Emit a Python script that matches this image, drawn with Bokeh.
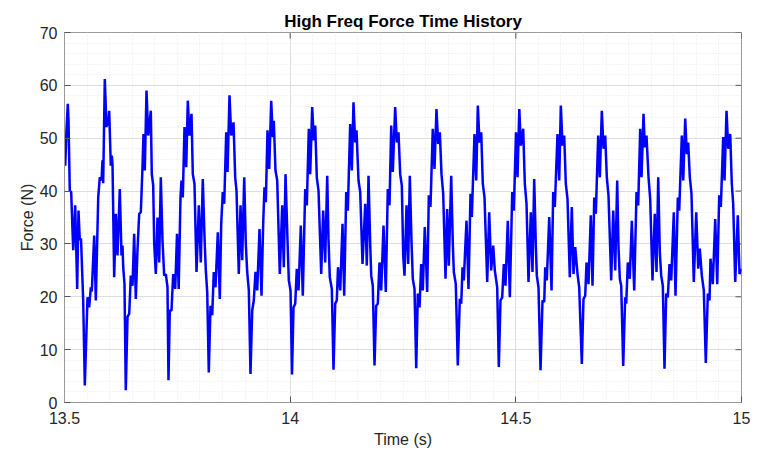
from bokeh.plotting import figure
from bokeh.models import FixedTicker, Range1d
from bokeh.embed import file_html
from bokeh.resources import INLINE
import numpy as np

# ---------------- data ----------------
time_s = [
    13.5000, 13.5016, 13.5044, 13.5073, 13.5089, 13.5117, 13.5148, 13.5193, 13.5237, 13.5281, 13.5310, 13.5339, 13.5366, 13.5414, 13.5450,
    13.5510, 13.5547, 13.5583, 13.5605, 13.5658, 13.5694, 13.5747, 13.5782, 13.5820, 13.5842, 13.5857, 13.5893, 13.5931, 13.5953, 13.5968, 13.5990, 13.6026, 13.6048, 13.6064, 13.6101, 13.6137, 13.6174, 13.6225, 13.6263, 13.6285, 13.6301, 13.6329, 13.6358,
    13.6396, 13.6434, 13.6469, 13.6507, 13.6544, 13.6580, 13.6617, 13.6655, 13.6691, 13.6728, 13.6750, 13.6779, 13.6817, 13.6855, 13.6877, 13.6912, 13.6934, 13.6965, 13.6988, 13.7023, 13.7061, 13.7098, 13.7134, 13.7171, 13.7209, 13.7245, 13.7282, 13.7304,
    13.7333, 13.7371, 13.7408, 13.7453, 13.7493, 13.7530, 13.7570, 13.7592, 13.7621, 13.7659, 13.7697, 13.7732, 13.7770, 13.7814, 13.7843, 13.7880, 13.7925, 13.7976, 13.8020, 13.8064, 13.8102, 13.8131, 13.8162, 13.8197,
    13.8235, 13.8273, 13.8308, 13.8346, 13.8397, 13.8441, 13.8472, 13.8507, 13.8539, 13.8583, 13.8612, 13.8656, 13.8694, 13.8716, 13.8745, 13.8782, 13.8811, 13.8862, 13.8900, 13.8937, 13.8982, 13.9017, 13.9048, 13.9084, 13.9121,
    13.9159, 13.9194, 13.9232, 13.9270, 13.9321, 13.9365, 13.9403, 13.9431, 13.9460, 13.9498, 13.9536, 13.9580, 13.9615, 13.9637, 13.9675, 13.9713, 13.9770, 13.9824, 13.9859, 13.9897, 13.9941, 13.9970, 14.0008, 14.0041,
    14.0074, 14.0112, 14.0147, 14.0185, 14.0236, 14.0280, 14.0333, 14.0369, 14.0413, 14.0444, 14.0488, 14.0524, 14.0555, 14.0590, 14.0628, 14.0688, 14.0732, 14.0776, 14.0821, 14.0849, 14.0878, 14.0923, 14.0960,
    14.0998, 14.1033, 14.1060, 14.1109, 14.1160, 14.1197, 14.1242, 14.1277, 14.1330, 14.1366, 14.1403, 14.1441, 14.1470, 14.1514, 14.1552, 14.1603, 14.1663, 14.1698, 14.1736, 14.1773, 14.1796, 14.1831, 14.1869,
    14.1906, 14.1942, 14.1979, 14.2017, 14.2068, 14.2119, 14.2163, 14.2201, 14.2239, 14.2274, 14.2327, 14.2363, 14.2400, 14.2438, 14.2474, 14.2505, 14.2533, 14.2578, 14.2615, 14.2651, 14.2689, 14.2717, 14.2755, 14.2793,
    14.2828, 14.2866, 14.2903, 14.2939, 14.2983, 14.3036, 14.3072, 14.3109, 14.3160, 14.3198, 14.3242, 14.3280, 14.3316, 14.3353, 14.3391, 14.3442, 14.3479, 14.3515, 14.3568, 14.3604, 14.3626, 14.3670, 14.3714,
    14.3759, 14.3790, 14.3819, 14.3847, 14.3907, 14.3951, 14.3996, 14.4025, 14.4084, 14.4122, 14.4158, 14.4195, 14.4233, 14.4268, 14.4306, 14.4366, 14.4410, 14.4454, 14.4499, 14.4534, 14.4587, 14.4623,
    14.4660, 14.4698, 14.4734, 14.4771, 14.4822, 14.4867, 14.4920, 14.4955, 14.5004, 14.5037, 14.5077, 14.5110, 14.5163, 14.5199, 14.5237, 14.5281, 14.5332, 14.5369, 14.5407, 14.5443, 14.5465, 14.5502, 14.5547,
    14.5591, 14.5629, 14.5651, 14.5686, 14.5740, 14.5791, 14.5828, 14.5864, 14.5923, 14.5961, 14.5997, 14.6034, 14.6072, 14.6107, 14.6145, 14.6196, 14.6240, 14.6278, 14.6316, 14.6367, 14.6404, 14.6462,
    14.6499, 14.6537, 14.6566, 14.6610, 14.6661, 14.6699, 14.6737, 14.6772, 14.6825, 14.6861, 14.6905, 14.6943, 14.6980, 14.7016, 14.7053, 14.7113, 14.7158, 14.7202, 14.7246, 14.7275, 14.7304, 14.7335, 14.7379,
    14.7423, 14.7446, 14.7481, 14.7525, 14.7570, 14.7623, 14.7674, 14.7711, 14.7756, 14.7785, 14.7829, 14.7858, 14.7895, 14.7940, 14.7977, 14.8028, 14.8079, 14.8117, 14.8155, 14.8190, 14.8221, 14.8257, 14.8294,
    14.8332, 14.8367, 14.8405, 14.8443, 14.8500, 14.8538, 14.8589, 14.8620, 14.8678, 14.8709, 14.8753, 14.8788, 14.8819, 14.8855, 14.8892, 14.8943, 14.8997, 14.9041, 14.9076, 14.9121, 14.9165, 14.9209,
    14.9254, 14.9291, 14.9313, 14.9364, 14.9418, 14.9462, 14.9506, 14.9542, 14.9595, 14.9624, 14.9668, 14.9706, 14.9750, 14.9785, 14.9816, 14.9861, 14.9918, 14.9956, 15.0000,
]

force_N = [
    49.2, 44.8, 51.5, 56.5, 53.3, 40.1, 39.8, 28.8, 37.3, 21.5, 36.3, 30.7, 31.0, 19.3, 3.2,
    19.9, 18.0, 21.8, 21.0, 31.6, 19.3, 38.8, 42.6, 42.0, 45.8, 41.5, 61.2, 52.1, 54.0, 52.4, 55.2, 44.8, 46.7, 45.0, 23.7, 35.7, 27.8, 40.4, 27.8, 29.7, 25.6, 22.4, 2.3,
    16.2, 16.8, 24.0, 22.1, 31.9, 19.6, 28.8, 35.7, 36.0, 44.5, 50.8, 43.9, 59.0, 50.5, 52.1, 55.2, 43.2, 41.1, 30.0, 24.3, 35.0, 26.5, 42.6, 30.7, 24.0, 24.3, 21.8, 4.2,
    17.4, 17.4, 24.3, 21.5, 31.9, 21.5, 38.8, 42.0, 38.8, 52.1, 44.5, 57.1, 50.5, 54.6, 43.2, 41.4, 24.7, 37.3, 26.5, 42.3, 31.3, 25.0, 20.9, 5.7,
    18.3, 16.5, 24.7, 21.8, 32.2, 19.6, 33.8, 39.8, 37.6, 51.1, 43.6, 58.1, 50.5, 51.5, 53.0, 42.6, 40.1, 24.3, 37.3, 26.9, 42.6, 30.0, 24.7, 21.2, 5.4,
    17.4, 19.3, 24.7, 21.2, 32.8, 20.2, 34.1, 40.7, 37.9, 51.5, 44.2, 57.1, 50.2, 53.3, 43.9, 42.0, 24.3, 37.3, 25.6, 43.2, 30.7, 23.1, 21.2, 5.3,
    18.0, 18.7, 25.3, 21.2, 33.5, 20.2, 40.4, 37.3, 51.8, 43.2, 55.9, 49.6, 52.4, 42.6, 40.1, 24.3, 36.3, 26.5, 42.9, 31.0, 23.7, 21.5, 6.2,
    18.7, 19.3, 25.6, 21.2, 33.8, 20.2, 39.8, 36.3, 52.7, 43.9, 56.8, 49.2, 51.5, 42.0, 39.8, 26.2, 37.6, 25.9, 42.9, 30.0, 24.0, 22.1, 7.0,
    18.3, 18.7, 26.5, 21.2, 33.5, 20.9, 40.4, 37.3, 52.4, 43.6, 55.9, 49.2, 51.1, 43.2, 41.0, 27.8, 24.0, 37.3, 26.2, 42.9, 30.3, 23.4, 21.5, 6.5,
    20.6, 18.0, 26.2, 21.2, 33.2, 20.9, 39.2, 37.0, 51.8, 44.2, 55.5, 48.9, 51.1, 43.2, 39.5, 23.4, 36.6, 25.9, 42.9, 30.0, 24.7, 22.4, 7.0,
    19.6, 18.7, 25.6, 23.1, 34.4, 21.5, 39.5, 35.1, 50.8, 42.0, 56.2, 49.2, 51.1, 41.4, 38.8, 22.8, 36.0, 25.0, 29.7, 25.0, 21.8, 6.7,
    19.3, 19.9, 26.2, 22.1, 34.4, 19.9, 39.8, 36.3, 51.1, 42.6, 55.5, 48.6, 51.8, 41.4, 37.6, 22.8, 36.0, 24.7, 42.3, 29.7, 24.0, 21.8, 6.1,
    19.3, 19.0, 25.6, 23.1, 35.1, 21.2, 39.8, 37.0, 50.8, 42.0, 56.2, 48.6, 50.5, 41.4, 38.5, 23.7, 37.0, 24.3, 29.4, 24.3, 21.8, 7.3,
    19.6, 20.2, 26.5, 22.4, 35.4, 22.1, 38.8, 35.7, 50.5, 42.6, 55.2, 48.0, 50.5, 42.6, 39.2, 23.1, 36.3, 25.0, 42.0, 29.4, 23.4, 22.1, 6.9,
    19.9, 18.7, 26.5, 23.4, 34.4, 21.2, 39.8, 37.3, 51.8, 42.6, 54.6, 48.3, 50.5, 42.6, 38.5, 23.1, 35.7, 24.7, 42.6, 28.4, 24.0, 22.1, 6.4,
    20.6, 19.9, 26.2, 23.1, 36.0, 20.2, 38.8, 36.3, 50.5, 42.0, 53.7, 47.0, 49.2, 42.6, 39.5, 22.8, 36.0, 25.3, 29.1, 24.0, 21.2, 7.5,
    20.6, 19.3, 27.2, 22.4, 34.7, 22.4, 39.2, 37.0, 50.2, 42.0, 55.2, 48.0, 50.8, 41.4, 37.6, 22.8, 35.4, 24.3, 25.3,
]

x_ticks = [13.5, 14.0, 14.5, 15.0]
x_tick_labels = ["13.5", "14", "14.5", "15"]
y_ticks = [0, 10, 20, 30, 40, 50, 60, 70]
x_minor = [round(v, 2) for v in np.arange(13.5, 15.0001, 0.05)]
y_minor = list(range(0, 71, 2))

n = min(len(time_s), len(force_N))

FONT = "Liberation Sans"
TXT = "#262626"
FRAME = "#9a9a9a"
TICK = "#555555"

p = figure(width=752, height=450,
           x_range=Range1d(13.5, 15.0), y_range=Range1d(0, 70),
           output_backend="svg", toolbar_location=None,
           min_border_left=64, min_border_right=11,
           min_border_top=32, min_border_bottom=48,
           title="High Freq Force Time History")
p.title.align = "center"
p.title.text_font = FONT
p.title.text_font_size = "17px"
p.title.text_font_style = "bold"
p.title.text_color = "#000000"
p.title.offset = 0
p.title.standoff = 4

p.background_fill_color = "white"
p.border_fill_color = "white"
p.outline_line_color = FRAME
p.outline_line_width = 1

# grids
for g in (p.xgrid[0], p.ygrid[0]):
    g.grid_line_color = "#dedede"
    g.grid_line_width = 1
    g.minor_grid_line_color = "#e8e8e8"
    g.minor_grid_line_dash = "1 2"
    g.minor_grid_line_width = 1
p.xgrid[0].ticker = FixedTicker(ticks=x_ticks, minor_ticks=x_minor)
p.ygrid[0].ticker = FixedTicker(ticks=y_ticks, minor_ticks=y_minor)

# inward ticks on the top and right edges of the box
p.ray(x=x_ticks, y=[70] * len(x_ticks), length=6, length_units="screen",
      angle=-np.pi / 2, line_color=TICK, line_width=1)
p.ray(x=[15.0] * len(y_ticks), y=y_ticks, length=6, length_units="screen",
      angle=np.pi, line_color=TICK, line_width=1)

# main line
p.line(time_s[:n], force_N[:n], line_color="#0000ff", line_width=2.5)


def style_axis(ax, ticks, minor):
    ax.ticker = FixedTicker(ticks=ticks, minor_ticks=minor)
    ax.axis_line_color = FRAME
    ax.major_tick_line_color = TICK
    ax.major_tick_in = 6
    ax.major_tick_out = 0
    ax.minor_tick_line_color = None
    ax.major_label_text_font = FONT
    ax.major_label_text_color = TXT
    ax.major_label_text_font_size = "16px"
    ax.axis_label_text_font = FONT
    ax.axis_label_text_color = TXT
    ax.axis_label_text_font_style = "normal"
    ax.axis_label_text_font_size = "16px"


xa = p.xaxis[0]
style_axis(xa, x_ticks, x_minor)
xa.major_label_overrides = {t: l for t, l in zip(x_ticks, x_tick_labels)}
xa.axis_label = "Time (s)"
xa.major_label_standoff = 5
xa.axis_label_standoff = 4

ya = p.yaxis[0]
style_axis(ya, y_ticks, y_minor)
ya.axis_label = "Force (N)"
ya.major_label_standoff = 3
ya.axis_label_standoff = 1

open("out.html", "w").write(file_html(p, INLINE))
